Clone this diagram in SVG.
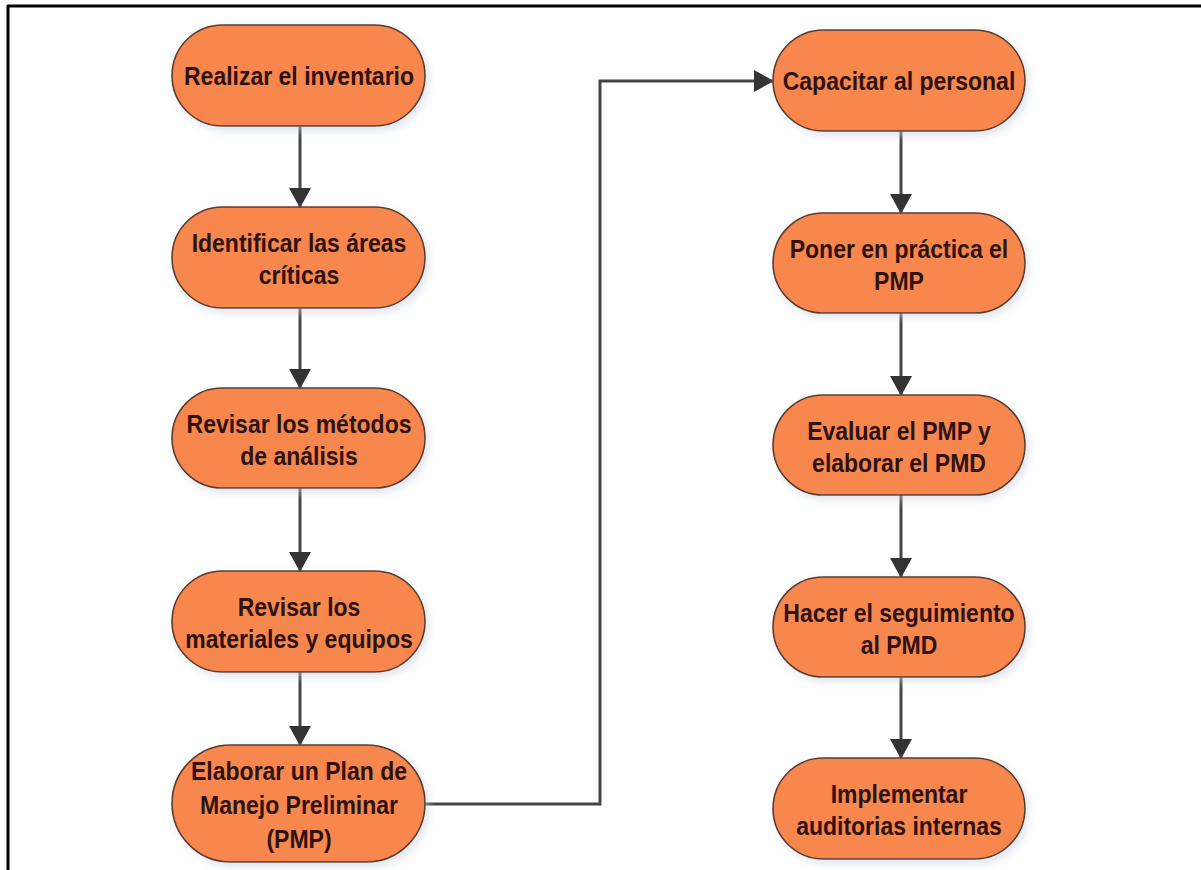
<svg xmlns="http://www.w3.org/2000/svg" width="1201" height="870" viewBox="0 0 1201 870">
  <defs>
    <style>
      .node { fill: #F7874E; stroke: #5B3A2C; stroke-width: 1.6; filter: url(#halo); }
      .lbl { font-family: "Liberation Sans", Arial, sans-serif; font-weight: bold; font-size: 23px; fill: #2E1210; text-anchor: middle; }
      .conn { fill: none; stroke: #454545; stroke-width: 3; }
      .frame { stroke: #000; stroke-width: 3; fill: none; }
    </style>
    <marker id="arrow" viewBox="0 0 20 22" refX="19" refY="11" markerWidth="20" markerHeight="22" markerUnits="userSpaceOnUse" orient="auto">
      <path d="M0,0 L20,11 L0,22 z" fill="#333333"/>
    </marker>
    <filter id="halo" x="-10%" y="-20%" width="120%" height="150%">
      <feGaussianBlur in="SourceAlpha" stdDeviation="4" result="b"/>
      <feOffset in="b" dx="3" dy="4" result="o"/>
      <feFlood flood-color="#C9D2E0" flood-opacity="0.6"/>
      <feComposite in2="o" operator="in" result="s"/>
      <feMerge><feMergeNode in="s"/><feMergeNode in="SourceGraphic"/></feMerge>
    </filter>
  </defs>

  <rect width="1201" height="870" fill="#FFFFFF"/>
  <g id="frame">
    <line class="frame" x1="7" y1="6" x2="1201" y2="6"/>
    <line class="frame" x1="8" y1="5" x2="8" y2="870"/>
  </g>

  <g id="connectors">
    <line class="conn" x1="300" y1="126" x2="300" y2="207" marker-end="url(#arrow)"/>
    <line class="conn" x1="300" y1="308" x2="300" y2="388" marker-end="url(#arrow)"/>
    <line class="conn" x1="300" y1="488" x2="300" y2="571" marker-end="url(#arrow)"/>
    <line class="conn" x1="300" y1="672" x2="300" y2="745" marker-end="url(#arrow)"/>
    <path class="conn" d="M425,804 H600 V81 H773" marker-end="url(#arrow)"/>
    <line class="conn" x1="901" y1="131" x2="901" y2="213" marker-end="url(#arrow)"/>
    <line class="conn" x1="901" y1="313" x2="901" y2="395" marker-end="url(#arrow)"/>
    <line class="conn" x1="901" y1="495" x2="901" y2="577" marker-end="url(#arrow)"/>
    <line class="conn" x1="901" y1="677" x2="901" y2="758" marker-end="url(#arrow)"/>
  </g>

  <g id="n1">
    <rect class="node" x="172" y="25" width="253" height="101" rx="50.5"/>
    <text class="lbl" transform="translate(299,85) scale(1,1.14)">Realizar el inventario</text>
  </g>
  <g id="n2">
    <rect class="node" x="172" y="207" width="253" height="101" rx="50.5"/>
    <text class="lbl" transform="translate(299,252) scale(1,1.14)">Identificar las áreas</text>
    <text class="lbl" transform="translate(299,284) scale(1,1.14)">críticas</text>
  </g>
  <g id="n3">
    <rect class="node" x="172" y="388" width="253" height="100" rx="50"/>
    <text class="lbl" transform="translate(299,433) scale(1,1.14)">Revisar los métodos</text>
    <text class="lbl" transform="translate(299,465) scale(1,1.14)">de análisis</text>
  </g>
  <g id="n4">
    <rect class="node" x="172" y="571" width="253" height="101" rx="50.5"/>
    <text class="lbl" transform="translate(299,616) scale(1,1.14)">Revisar los</text>
    <text class="lbl" transform="translate(299,648) scale(1,1.14)">materiales y equipos</text>
  </g>
  <g id="n5">
    <rect class="node" x="172" y="745" width="253" height="117" rx="58.5"/>
    <text class="lbl" transform="translate(299,780) scale(1,1.14)">Elaborar un Plan de</text>
    <text class="lbl" transform="translate(299,814) scale(1,1.14)">Manejo Preliminar</text>
    <text class="lbl" transform="translate(299,848) scale(1,1.14)">(PMP)</text>
  </g>

  <g id="r1">
    <rect class="node" x="773" y="30" width="252" height="101" rx="50.5"/>
    <text class="lbl" transform="translate(899,90) scale(1,1.14)">Capacitar al personal</text>
  </g>
  <g id="r2">
    <rect class="node" x="773" y="213" width="252" height="100" rx="50"/>
    <text class="lbl" transform="translate(899,258) scale(1,1.14)">Poner en práctica el</text>
    <text class="lbl" transform="translate(899,290) scale(1,1.14)">PMP</text>
  </g>
  <g id="r3">
    <rect class="node" x="773" y="395" width="252" height="100" rx="50"/>
    <text class="lbl" transform="translate(899,440) scale(1,1.14)">Evaluar el PMP y</text>
    <text class="lbl" transform="translate(899,472) scale(1,1.14)">elaborar el PMD</text>
  </g>
  <g id="r4">
    <rect class="node" x="773" y="577" width="252" height="100" rx="50"/>
    <text class="lbl" transform="translate(899,622) scale(1,1.14)">Hacer el seguimiento</text>
    <text class="lbl" transform="translate(899,654) scale(1,1.14)">al PMD</text>
  </g>
  <g id="r5">
    <rect class="node" x="773" y="758" width="252" height="101" rx="50.5"/>
    <text class="lbl" transform="translate(899,803) scale(1,1.14)">Implementar</text>
    <text class="lbl" transform="translate(899,835) scale(1,1.14)">auditorias internas</text>
  </g>
</svg>
